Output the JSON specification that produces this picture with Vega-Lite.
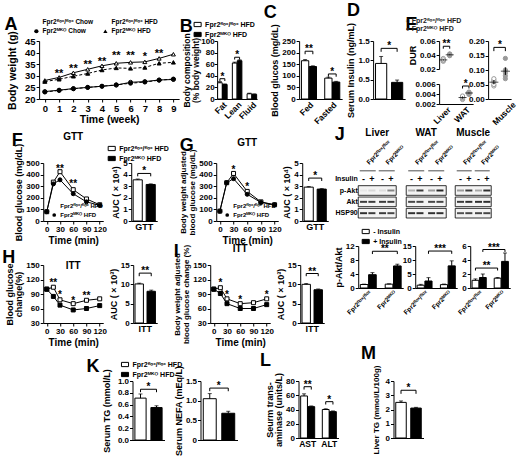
{
  "$schema": "https://vega.github.io/schema/vega-lite/v6.json",
  "padding": 2,
  "config": {
    "font": "Liberation Sans",
    "view": {"stroke": null},
    "axis": {"labelFont": "Liberation Sans", "labelFontWeight": "bold", "labelFontSize": 8, "labelColor": "black", "titleFont": "Liberation Sans", "titleFontWeight": "bold", "titleFontSize": 9, "titleColor": "black", "domainColor": "black", "tickColor": "black", "tickSize": 3, "grid": false, "labelPadding": 1, "titlePadding": 2, "labelOverlap": false, "labelFlush": false, "titleLineHeight": 9.5},
    "legend": {"labelFont": "Liberation Sans", "labelFontWeight": "bold", "labelFontSize": 7, "labelColor": "black", "symbolStrokeColor": "black", "symbolStrokeWidth": 1, "rowPadding": 1, "padding": 0, "labelOffset": 3},
    "title": {"font": "Liberation Sans", "fontWeight": "bold", "fontSize": 18, "color": "black", "anchor": "start", "offset": 2},
    "text": {"font": "Liberation Sans", "fontWeight": "bold", "fontSize": 10, "color": "black"}
  },
  "spacing": -2,
  "center": true,
  "resolve": {"scale": {"fill": "independent", "shape": "independent", "opacity": "independent"}},
  "vconcat": [
    {
      "spacing": 0,
      "resolve": {"scale": {"fill": "independent", "shape": "independent", "opacity": "independent"}},
      "hconcat": [
        {
          "width": 140, "height": 58,
          "title": {"text": "A", "offset": -16, "dx": -3},
          "data": {"values": [
            {"s": "fc", "wk": 0, "v": 23.2}, {"s": "fc", "wk": 1, "v": 23.8}, {"s": "fc", "wk": 2, "v": 24.5}, {"s": "fc", "wk": 3, "v": 25.0}, {"s": "fc", "wk": 4, "v": 25.5}, {"s": "fc", "wk": 5, "v": 26.0}, {"s": "fc", "wk": 6, "v": 27.2}, {"s": "fc", "wk": 7, "v": 27.5}, {"s": "fc", "wk": 8, "v": 28.2}, {"s": "fc", "wk": 9, "v": 28.4},
            {"s": "mc", "wk": 0, "v": 23.0}, {"s": "mc", "wk": 1, "v": 23.7}, {"s": "mc", "wk": 2, "v": 24.4}, {"s": "mc", "wk": 3, "v": 25.0}, {"s": "mc", "wk": 4, "v": 25.5}, {"s": "mc", "wk": 5, "v": 26.1}, {"s": "mc", "wk": 6, "v": 26.8}, {"s": "mc", "wk": 7, "v": 27.3}, {"s": "mc", "wk": 8, "v": 28.1}, {"s": "mc", "wk": 9, "v": 28.6},
            {"s": "fh", "wk": 0, "v": 28.0}, {"s": "fh", "wk": 1, "v": 29.3}, {"s": "fh", "wk": 2, "v": 31.3}, {"s": "fh", "wk": 3, "v": 32.8}, {"s": "fh", "wk": 4, "v": 34.3}, {"s": "fh", "wk": 5, "v": 35.4}, {"s": "fh", "wk": 6, "v": 35.8}, {"s": "fh", "wk": 7, "v": 36.0}, {"s": "fh", "wk": 8, "v": 37.5}, {"s": "fh", "wk": 9, "v": 39.3},
            {"s": "mh", "wk": 0, "v": 27.5}, {"s": "mh", "wk": 1, "v": 28.5}, {"s": "mh", "wk": 2, "v": 29.8}, {"s": "mh", "wk": 3, "v": 31.0}, {"s": "mh", "wk": 4, "v": 32.5}, {"s": "mh", "wk": 5, "v": 33.4}, {"s": "mh", "wk": 6, "v": 33.2}, {"s": "mh", "wk": 7, "v": 33.6}, {"s": "mh", "wk": 8, "v": 35.4}, {"s": "mh", "wk": 9, "v": 35.8}
          ]},
          "encoding": {
            "x": {"field": "wk", "type": "quantitative", "scale": {"domain": [-0.4, 9.4], "nice": false}, "axis": {"values": [0, 1, 2, 3, 4, 5, 6, 7, 8, 9], "title": "Time (week)", "labelFontSize": 9.5, "titleFontSize": 10.5}},
            "y": {"field": "v", "type": "quantitative", "scale": {"domain": [20, 45]}, "axis": {"values": [20, 25, 30, 35, 40, 45], "title": "Body weight (g)", "labelFontSize": 9.5, "titleFontSize": 10.5, "titlePadding": 7}}
          },
          "layer": [
            {"transform": [{"filter": "datum.s == 'fc' || datum.s == 'fh'"}], "mark": {"type": "line", "color": "black", "strokeWidth": 1}, "encoding": {"detail": {"field": "s"}}},
            {"transform": [{"filter": "datum.s == 'mc' || datum.s == 'mh'"}], "mark": {"type": "line", "color": "black", "strokeWidth": 1, "strokeDash": [3, 2]}, "encoding": {"detail": {"field": "s"}}},
            {
              "mark": {"type": "point", "filled": true, "stroke": "black", "strokeWidth": 1, "size": 16, "opacity": 1},
              "encoding": {
                "shape": {"field": "s", "type": "nominal", "scale": {"domain": ["fc", "fh", "mc", "mh"], "range": ["circle", "triangle-up", "circle", "triangle-up"]}, "legend": {"title": null, "orient": "none", "legendX": -6, "legendY": -23, "columns": 2, "direction": "horizontal", "columnPadding": 8, "symbolSize": 18, "labelFontSize": 6.5, "labelExpr": "datum.label == 'fc' ? 'Fpr2ᶠˡᵒˣ/ᶠˡᵒˣ Chow' : datum.label == 'fh' ? 'Fpr2ᶠˡᵒˣ/ᶠˡᵒˣ HFD' : datum.label == 'mc' ? 'Fpr2ᴹᴷᴼ Chow' : 'Fpr2ᴹᴷᴼ HFD'"}},
                "fill": {"field": "s", "type": "nominal", "scale": {"domain": ["fc", "fh", "mc", "mh"], "range": ["white", "white", "black", "black"]}, "legend": {"title": null, "orient": "none", "legendX": -6, "legendY": -23, "columns": 2, "direction": "horizontal", "columnPadding": 8, "symbolSize": 18, "labelFontSize": 6.5, "labelExpr": "datum.label == 'fc' ? 'Fpr2ᶠˡᵒˣ/ᶠˡᵒˣ Chow' : datum.label == 'fh' ? 'Fpr2ᶠˡᵒˣ/ᶠˡᵒˣ HFD' : datum.label == 'mc' ? 'Fpr2ᴹᴷᴼ Chow' : 'Fpr2ᴹᴷᴼ HFD'"}}
              }
            },
            {
              "data": {"values": [{"wk": 1, "v": 30.7, "t": "**"}, {"wk": 2, "v": 32.8, "t": "**"}, {"wk": 3, "v": 34.6, "t": "**"}, {"wk": 4, "v": 35.8, "t": "**"}, {"wk": 5, "v": 38.6, "t": "**"}, {"wk": 6, "v": 38.6, "t": "**"}, {"wk": 7, "v": 38.2, "t": "*"}, {"wk": 8, "v": 39.3, "t": "**"}]},
              "mark": {"type": "text", "baseline": "middle", "fontSize": 11},
              "encoding": {"text": {"field": "t"}}
            }
          ]
        },
        {
          "width": 40, "height": 58,
          "title": {"text": "B", "offset": -16, "dx": -3},
          "encoding": {
            "x": {"field": "k", "type": "nominal", "scale": {"type": "band", "domain": ["Fat|flox", "Fat|MKO", "s1", "Lean|flox", "Lean|MKO", "s2", "Fluid|flox", "Fluid|MKO"], "paddingInner": 0.06, "paddingOuter": 0.1}, "axis": {"title": null, "labelAngle": -45, "ticks": false, "labelFontSize": 8.5, "labelOffset": 2.5, "labelExpr": "datum.value == 'Fat|flox' ? 'Fat' : datum.value == 'Lean|flox' ? 'Lean' : datum.value == 'Fluid|flox' ? 'Fluid' : ''"}},
            "y": {"field": "v", "type": "quantitative", "scale": {"domain": [0, 100]}, "axis": {"values": [0, 20, 40, 60, 80, 100], "title": ["Body composition", "(% body weight)"], "titleFontSize": 8.5, "titleLineHeight": 9, "titlePadding": 0, "labelPadding": 0}}
          },
          "layer": [
            {
              "data": {"values": [{"k": "Fat|flox", "g": "flox", "v": 28, "hi": 30}, {"k": "Fat|MKO", "g": "MKO", "v": 25, "hi": 26}, {"k": "Lean|flox", "g": "flox", "v": 62, "hi": 63.5}, {"k": "Lean|MKO", "g": "MKO", "v": 66, "hi": 67.5}, {"k": "Fluid|flox", "g": "flox", "v": 9, "hi": 10}, {"k": "Fluid|MKO", "g": "MKO", "v": 8, "hi": 8.8}]},
              "layer": [
                {"mark": {"type": "bar", "stroke": "black", "strokeWidth": 1}, "encoding": {"fill": {"field": "g", "type": "nominal", "scale": {"domain": ["flox", "MKO"], "range": ["white", "black"]}, "legend": {"title": null, "orient": "none", "legendX": -24, "legendY": -21, "direction": "vertical", "symbolType": "M-1,-0.6H1V0.6H-1Z", "symbolSize": 50, "labelExpr": "datum.label == 'flox' ? 'Fpr2ᶠˡᵒˣ/ᶠˡᵒˣ HFD' : 'Fpr2ᴹᴷᴼ HFD'"}}}},
                {"mark": {"type": "rule", "color": "black", "strokeWidth": 1}, "encoding": {"y2": {"field": "hi"}}}
              ]
            },
            {"data": {"values": [{"k": "Fat|flox", "v": 30}, {"k": "Fat|MKO", "v": 26}, {"k": "Lean|flox", "v": 63.5}, {"k": "Lean|MKO", "v": 67.5}, {"k": "Fluid|flox", "v": 10}, {"k": "Fluid|MKO", "v": 8.8}]}, "mark": {"type": "tick", "color": "black", "thickness": 1, "size": 4}, "encoding": {}},
            {"data": {"values": [{"b": 1, "k": "Fat|flox", "v": 31, "o": 1}, {"b": 1, "k": "Fat|flox", "v": 35, "o": 2}, {"b": 1, "k": "Fat|MKO", "v": 35, "o": 3}, {"b": 1, "k": "Fat|MKO", "v": 31, "o": 4}, {"b": 2, "k": "Lean|flox", "v": 68, "o": 1}, {"b": 2, "k": "Lean|flox", "v": 72, "o": 2}, {"b": 2, "k": "Lean|MKO", "v": 72, "o": 3}, {"b": 2, "k": "Lean|MKO", "v": 68, "o": 4}]}, "mark": {"type": "line", "color": "black", "strokeWidth": 1}, "encoding": {"detail": {"field": "b"}, "order": {"field": "o"}}},
            {"data": {"values": [{"k": "Fat|flox", "v": 35, "s": "*"}, {"k": "Lean|flox", "v": 72, "s": "*"}]}, "mark": {"type": "text", "baseline": "bottom", "dy": 3, "dx": 2.5}, "encoding": {"text": {"field": "s"}}}
          ]
        },
        {
          "width": 43, "height": 58,
          "title": {"text": "C", "dx": -7},
          "encoding": {
            "x": {"field": "k", "type": "nominal", "scale": {"type": "band", "domain": ["Fed|flox", "Fed|MKO", "s", "Fasted|flox", "Fasted|MKO"], "paddingInner": 0.06, "paddingOuter": 0.3}, "axis": {"title": null, "labelAngle": -45, "ticks": false, "labelFontSize": 8.5, "labelOffset": 3.9, "labelExpr": "datum.value == 'Fed|flox' ? 'Fed' : datum.value == 'Fasted|flox' ? 'Fasted' : ''"}},
            "y": {"field": "v", "type": "quantitative", "scale": {"domain": [0, 250]}, "axis": {"values": [0, 50, 100, 150, 200, 250], "title": "Blood glucos (mg/dL)"}}
          },
          "layer": [
            {
              "data": {"values": [{"k": "Fed|flox", "g": "flox", "v": 165, "hi": 170}, {"k": "Fed|MKO", "g": "MKO", "v": 140, "hi": 143}, {"k": "Fasted|flox", "g": "flox", "v": 90, "hi": 94}, {"k": "Fasted|MKO", "g": "MKO", "v": 73, "hi": 76}]},
              "layer": [
                {"mark": {"type": "bar", "stroke": "black", "strokeWidth": 1}, "encoding": {"fill": {"field": "g", "type": "nominal", "scale": {"domain": ["flox", "MKO"], "range": ["white", "black"]}, "legend": null}}},
                {"mark": {"type": "rule", "color": "black", "strokeWidth": 1}, "encoding": {"y2": {"field": "hi"}}}
              ]
            },
            {"data": {"values": [{"k": "Fed|flox", "v": 170}, {"k": "Fed|MKO", "v": 143}, {"k": "Fasted|flox", "v": 94}, {"k": "Fasted|MKO", "v": 76}]}, "mark": {"type": "tick", "color": "black", "thickness": 1, "size": 4}, "encoding": {}},
            {"data": {"values": [{"b": 1, "k": "Fed|flox", "v": 193, "o": 1}, {"b": 1, "k": "Fed|flox", "v": 206, "o": 2}, {"b": 1, "k": "Fed|MKO", "v": 206, "o": 3}, {"b": 1, "k": "Fed|MKO", "v": 193, "o": 4}, {"b": 2, "k": "Fasted|flox", "v": 96, "o": 1}, {"b": 2, "k": "Fasted|flox", "v": 108, "o": 2}, {"b": 2, "k": "Fasted|MKO", "v": 108, "o": 3}, {"b": 2, "k": "Fasted|MKO", "v": 96, "o": 4}]}, "mark": {"type": "line", "color": "black", "strokeWidth": 1}, "encoding": {"detail": {"field": "b"}, "order": {"field": "o"}}},
            {"data": {"values": [{"k": "Fed|flox", "v": 206, "s": "**"}, {"k": "Fasted|flox", "v": 108, "s": "*"}]}, "mark": {"type": "text", "baseline": "bottom", "dy": 3, "dx": 3.9}, "encoding": {"text": {"field": "s"}}}
          ]
        },
        {
          "width": 32, "height": 58,
          "title": {"text": "D"},
          "encoding": {
            "x": {"field": "g", "type": "nominal", "scale": {"type": "band", "domain": ["flox", "MKO"], "paddingInner": 0.3, "paddingOuter": 0.15}, "axis": {"title": null, "labels": false, "ticks": false}},
            "y": {"field": "v", "type": "quantitative", "scale": {"domain": [0, 1.5]}, "axis": {"values": [0, 0.5, 1, 1.5], "format": ".1f", "title": "Serum Insulin (ng/mL)"}}
          },
          "layer": [
            {
              "data": {"values": [{"g": "flox", "v": 0.92, "hi": 1.1}, {"g": "MKO", "v": 0.43, "hi": 0.49}]},
              "layer": [
                {"mark": {"type": "bar", "stroke": "black", "strokeWidth": 1}, "encoding": {"fill": {"field": "g", "type": "nominal", "scale": {"domain": ["flox", "MKO"], "range": ["white", "black"]}, "legend": null}}},
                {"mark": {"type": "rule", "color": "black", "strokeWidth": 1}, "encoding": {"y2": {"field": "hi"}}}
              ]
            },
            {"data": {"values": [{"g": "flox", "v": 1.1}, {"g": "MKO", "v": 0.49}]}, "mark": {"type": "tick", "color": "black", "thickness": 1, "size": 4}, "encoding": {}},
            {"data": {"values": [{"g": "flox", "v": 1.22, "o": 1}, {"g": "flox", "v": 1.31, "o": 2}, {"g": "MKO", "v": 1.31, "o": 3}, {"g": "MKO", "v": 1.22, "o": 4}]}, "mark": {"type": "line", "color": "black", "strokeWidth": 1}, "encoding": {"order": {"field": "o"}}},
            {"data": {"values": [{"g": "flox", "v": 1.31, "s": "*"}]}, "mark": {"type": "text", "baseline": "bottom", "dy": 3, "dx": 8}, "encoding": {"text": {"field": "s"}}}
          ]
        },
        {
          "title": {"text": "E", "dx": -3, "offset": 3, "subtitle": ["\u00a0\u00a0\u00a0\u00a0\u00a0\u00a0\u00a0\u00a0\u00a0\u00a0\u00a0○ Fpr2ᶠˡᵒˣ/ᶠˡᵒˣ HFD", "\u00a0\u00a0\u00a0\u00a0\u00a0\u00a0\u00a0\u00a0\u00a0\u00a0\u00a0● Fpr2ᴹᴷᴼ HFD"], "subtitleFont": "Liberation Sans", "subtitleFontWeight": "bold", "subtitleFontSize": 7, "subtitleColor": "#222222", "subtitlePadding": -17, "subtitleLineHeight": 8},
          "spacing": -10,
          "resolve": {"scale": {"fill": "independent", "shape": "independent", "opacity": "independent"}},
          "hconcat": [
            {
              "spacing": 6,
              "resolve": {"scale": {"fill": "independent", "shape": "independent", "opacity": "independent"}},
              "vconcat": [
                {
                  "width": 34, "height": 28,
                  "encoding": {
                    "x": {"field": "k", "type": "nominal", "scale": {"type": "band", "domain": ["Liver|flox", "Liver|MKO", "s", "WAT|flox", "WAT|MKO"], "paddingInner": 0.1, "paddingOuter": 0.2}, "axis": null},
                    "y": {"field": "v", "type": "quantitative", "scale": {"domain": [0.02, 0.06]}, "axis": {"values": [0.02, 0.04, 0.06], "format": ".2f", "title": "DUR"}}
                  },
                  "layer": [
                    {
                      "data": {"values": [{"k": "Liver|flox", "g": "flox", "v": 0.031}, {"k": "Liver|flox", "g": "flox", "v": 0.0325}, {"k": "Liver|flox", "g": "flox", "v": 0.034}, {"k": "Liver|flox", "g": "flox", "v": 0.035}, {"k": "Liver|flox", "g": "flox", "v": 0.033}, {"k": "Liver|MKO", "g": "MKO", "v": 0.039}, {"k": "Liver|MKO", "g": "MKO", "v": 0.0395}, {"k": "Liver|MKO", "g": "MKO", "v": 0.04}, {"k": "Liver|MKO", "g": "MKO", "v": 0.041}, {"k": "Liver|MKO", "g": "MKO", "v": 0.0415}]},
                      "mark": {"type": "point", "filled": true, "size": 18, "stroke": "#9a9a9a", "strokeWidth": 1, "opacity": 1},
                      "encoding": {"fill": {"field": "g", "type": "nominal", "scale": {"domain": ["flox", "MKO"], "range": ["white", "#9a9a9a"]}, "legend": null}}
                    },
                    {
                      "data": {"values": [{"k": "Liver|flox", "v": 0.033, "lo": 0.0322, "hi": 0.0338}, {"k": "Liver|MKO", "v": 0.0403, "lo": 0.0398, "hi": 0.0408}]},
                      "layer": [
                        {"mark": {"type": "tick", "color": "black", "thickness": 1, "size": 8}, "encoding": {}},
                        {"mark": {"type": "rule", "color": "black", "strokeWidth": 1}, "encoding": {"y2": {"field": "lo"}}},
                        {"mark": {"type": "rule", "color": "black", "strokeWidth": 1}, "encoding": {"y2": {"field": "hi"}}}
                      ]
                    },
                    {"data": {"values": [{"k": "Liver|flox", "v": 0.049, "o": 1}, {"k": "Liver|flox", "v": 0.0525, "o": 2}, {"k": "Liver|MKO", "v": 0.0525, "o": 3}, {"k": "Liver|MKO", "v": 0.049, "o": 4}]}, "mark": {"type": "line", "color": "black", "strokeWidth": 1}, "encoding": {"order": {"field": "o"}}},
                    {"data": {"values": [{"k": "Liver|flox", "v": 0.0525, "s": "**"}]}, "mark": {"type": "text", "baseline": "bottom", "dy": 3, "dx": 3.2}, "encoding": {"text": {"field": "s"}}}
                  ]
                },
                {
                  "width": 34, "height": 20,
                  "encoding": {
                    "x": {"field": "k", "type": "nominal", "scale": {"type": "band", "domain": ["Liver|flox", "Liver|MKO", "s", "WAT|flox", "WAT|MKO"], "paddingInner": 0.1, "paddingOuter": 0.2}, "axis": {"title": null, "labelAngle": -45, "ticks": false, "labelFontSize": 8.5, "labelOffset": 3.2, "labelExpr": "datum.value == 'Liver|flox' ? 'Liver' : datum.value == 'WAT|flox' ? 'WAT' : ''"}},
                    "y": {"field": "v", "type": "quantitative", "scale": {"domain": [0.002, 0.006]}, "axis": {"values": [0.002, 0.004, 0.006], "format": ".3f", "title": null}}
                  },
                  "layer": [
                    {
                      "data": {"values": [{"k": "WAT|flox", "g": "flox", "v": 0.0029}, {"k": "WAT|flox", "g": "flox", "v": 0.0031}, {"k": "WAT|flox", "g": "flox", "v": 0.0033}, {"k": "WAT|flox", "g": "flox", "v": 0.0034}, {"k": "WAT|flox", "g": "flox", "v": 0.0036}, {"k": "WAT|MKO", "g": "MKO", "v": 0.0039}, {"k": "WAT|MKO", "g": "MKO", "v": 0.0041}, {"k": "WAT|MKO", "g": "MKO", "v": 0.0042}, {"k": "WAT|MKO", "g": "MKO", "v": 0.0043}, {"k": "WAT|MKO", "g": "MKO", "v": 0.0044}]},
                      "mark": {"type": "point", "filled": true, "size": 18, "stroke": "#9a9a9a", "strokeWidth": 1, "opacity": 1},
                      "encoding": {"fill": {"field": "g", "type": "nominal", "scale": {"domain": ["flox", "MKO"], "range": ["white", "#9a9a9a"]}, "legend": null}}
                    },
                    {
                      "data": {"values": [{"k": "WAT|flox", "v": 0.0033, "lo": 0.0031, "hi": 0.0035}, {"k": "WAT|MKO", "v": 0.0042, "lo": 0.0041, "hi": 0.0043}]},
                      "layer": [
                        {"mark": {"type": "tick", "color": "black", "thickness": 1, "size": 8}, "encoding": {}},
                        {"mark": {"type": "rule", "color": "black", "strokeWidth": 1}, "encoding": {"y2": {"field": "lo"}}},
                        {"mark": {"type": "rule", "color": "black", "strokeWidth": 1}, "encoding": {"y2": {"field": "hi"}}}
                      ]
                    },
                    {"data": {"values": [{"k": "WAT|flox", "v": 0.0051, "o": 1}, {"k": "WAT|flox", "v": 0.0056, "o": 2}, {"k": "WAT|MKO", "v": 0.0056, "o": 3}, {"k": "WAT|MKO", "v": 0.0051, "o": 4}]}, "mark": {"type": "line", "color": "black", "strokeWidth": 1}, "encoding": {"order": {"field": "o"}}},
                    {"data": {"values": [{"k": "WAT|flox", "v": 0.0056, "s": "*"}]}, "mark": {"type": "text", "baseline": "bottom", "dy": 3, "dx": 3.2}, "encoding": {"text": {"field": "s"}}}
                  ]
                }
              ]
            },
            {
              "width": 23, "height": 58,
              "encoding": {
                "x": {"field": "g", "type": "nominal", "scale": {"type": "band", "domain": ["flox", "MKO"], "paddingInner": 0.3, "paddingOuter": 0.15}, "axis": {"title": null, "labelAngle": -45, "ticks": false, "labelFontSize": 8.5, "labelOffset": 6, "labelExpr": "datum.value == 'MKO' ? 'Muscle' : ''"}},
                "y": {"field": "v", "type": "quantitative", "scale": {"domain": [0, 0.2]}, "axis": {"values": [0, 0.05, 0.1, 0.15, 0.2], "format": ".2f", "title": null}}
              },
              "layer": [
                {
                  "data": {"values": [{"g": "flox", "v": 0.045}, {"g": "flox", "v": 0.05}, {"g": "flox", "v": 0.06}, {"g": "flox", "v": 0.065}, {"g": "flox", "v": 0.07}, {"g": "MKO", "v": 0.07}, {"g": "MKO", "v": 0.08}, {"g": "MKO", "v": 0.09}, {"g": "MKO", "v": 0.1}, {"g": "MKO", "v": 0.14}]},
                  "mark": {"type": "point", "filled": true, "size": 18, "stroke": "#9a9a9a", "strokeWidth": 1, "opacity": 1},
                  "encoding": {"fill": {"field": "g", "type": "nominal", "scale": {"domain": ["flox", "MKO"], "range": ["white", "#9a9a9a"]}, "legend": null}}
                },
                {
                  "data": {"values": [{"g": "flox", "v": 0.058, "lo": 0.051, "hi": 0.065}, {"g": "MKO", "v": 0.096, "lo": 0.083, "hi": 0.109}]},
                  "layer": [
                    {"mark": {"type": "tick", "color": "black", "thickness": 1, "size": 9}, "encoding": {}},
                    {"mark": {"type": "rule", "color": "black", "strokeWidth": 1}, "encoding": {"y2": {"field": "lo"}}},
                    {"mark": {"type": "rule", "color": "black", "strokeWidth": 1}, "encoding": {"y2": {"field": "hi"}}}
                  ]
                },
                {"data": {"values": [{"g": "flox", "v": 0.165, "o": 1}, {"g": "flox", "v": 0.178, "o": 2}, {"g": "MKO", "v": 0.178, "o": 3}, {"g": "MKO", "v": 0.165, "o": 4}]}, "mark": {"type": "line", "color": "black", "strokeWidth": 1}, "encoding": {"order": {"field": "o"}}},
                {"data": {"values": [{"g": "flox", "v": 0.178, "s": "*"}]}, "mark": {"type": "text", "baseline": "bottom", "dy": 3, "dx": 6}, "encoding": {"text": {"field": "s"}}}
              ]
            }
          ]
        }
      ]
    },
    {
      "spacing": -8,
      "resolve": {"scale": {"fill": "independent", "shape": "independent", "opacity": "independent"}},
      "hconcat": [
        {
          "spacing": -2,
          "resolve": {"scale": {"fill": "independent", "shape": "independent", "opacity": "independent"}},
          "vconcat": [
            {
              "spacing": 10,
              "resolve": {"scale": {"fill": "independent", "shape": "independent", "opacity": "independent"}},
              "hconcat": [
                {
                  "title": {"text": "F", "offset": -18, "dx": -3},
                  "spacing": 0,
                  "resolve": {"scale": {"fill": "independent", "shape": "independent", "opacity": "independent"}},
                  "hconcat": [
                    {
                      "width": 60, "height": 58,
                      "title": {"text": "GTT", "anchor": "middle", "fontSize": 10, "offset": 1},
                      "data": {"values": [{"g": "flox", "t": 0, "v": 80}, {"g": "flox", "t": 15, "v": 335}, {"g": "flox", "t": 30, "v": 425}, {"g": "flox", "t": 60, "v": 270}, {"g": "flox", "t": 90, "v": 190}, {"g": "flox", "t": 120, "v": 140}, {"g": "MKO", "t": 0, "v": 80}, {"g": "MKO", "t": 15, "v": 320}, {"g": "MKO", "t": 30, "v": 355}, {"g": "MKO", "t": 60, "v": 235}, {"g": "MKO", "t": 90, "v": 165}, {"g": "MKO", "t": 120, "v": 135}]},
                      "encoding": {
                        "x": {"field": "t", "type": "quantitative", "scale": {"domain": [-8, 128], "nice": false}, "axis": {"values": [0, 30, 60, 90, 120], "title": "Time (min)", "titleFontSize": 10}},
                        "y": {"field": "v", "type": "quantitative", "scale": {"domain": [0, 500]}, "axis": {"values": [0, 100, 200, 300, 400, 500], "title": "Blood glucose (mg/dL)"}}
                      },
                      "layer": [
                        {"mark": {"type": "line", "color": "black", "strokeWidth": 1}, "encoding": {"detail": {"field": "g"}}},
                        {
                          "mark": {"type": "point", "filled": true, "stroke": "black", "strokeWidth": 1, "size": 16, "opacity": 1},
                          "encoding": {
                            "shape": {"field": "g", "type": "nominal", "scale": {"domain": ["flox", "MKO"], "range": ["square", "circle"]}, "legend": {"title": null, "orient": "none", "legendX": 8, "legendY": 40, "direction": "vertical", "symbolSize": 14, "labelFontSize": 6, "labelExpr": "datum.label == 'flox' ? 'Fpr2ᶠˡᵒˣ/ᶠˡᵒˣ HFD' : 'Fpr2ᴹᴷᴼ HFD'"}},
                            "fill": {"field": "g", "type": "nominal", "scale": {"domain": ["flox", "MKO"], "range": ["white", "black"]}, "legend": {"title": null, "orient": "none", "legendX": 8, "legendY": 40, "direction": "vertical", "symbolSize": 14, "labelFontSize": 6, "labelExpr": "datum.label == 'flox' ? 'Fpr2ᶠˡᵒˣ/ᶠˡᵒˣ HFD' : 'Fpr2ᴹᴷᴼ HFD'"}}
                          }
                        },
                        {"data": {"values": [{"t": 30, "v": 445, "s": "**"}, {"t": 60, "v": 315, "s": "**"}]}, "mark": {"type": "text", "baseline": "middle"}, "encoding": {"text": {"field": "s"}}}
                      ]
                    },
                    {
                      "width": 26, "height": 58,
                      "encoding": {
                        "x": {"field": "g", "type": "nominal", "scale": {"type": "band", "domain": ["flox", "MKO"], "paddingInner": 0.3, "paddingOuter": 0.15}, "axis": {"title": null, "labelAngle": 0, "ticks": false, "labelFontSize": 9, "labelOffset": 6.5, "labelExpr": "datum.value == 'flox' ? 'GTT' : ''"}},
                        "y": {"field": "v", "type": "quantitative", "scale": {"domain": [0, 5]}, "axis": {"values": [0, 1, 2, 3, 4, 5], "title": "AUC ( × 10⁴)"}}
                      },
                      "layer": [
                        {
                          "data": {"values": [{"g": "flox", "v": 3.55, "hi": 3.62}, {"g": "MKO", "v": 3.15, "hi": 3.2}]},
                          "layer": [
                            {"mark": {"type": "bar", "stroke": "black", "strokeWidth": 1}, "encoding": {"fill": {"field": "g", "type": "nominal", "scale": {"domain": ["flox", "MKO"], "range": ["white", "black"]}, "legend": {"title": null, "orient": "none", "legendX": -24, "legendY": -19, "direction": "vertical", "symbolType": "M-1,-0.6H1V0.6H-1Z", "symbolSize": 50, "labelExpr": "datum.label == 'flox' ? 'Fpr2ᶠˡᵒˣ/ᶠˡᵒˣ HFD' : 'Fpr2ᴹᴷᴼ HFD'"}}}},
                            {"mark": {"type": "rule", "color": "black", "strokeWidth": 1}, "encoding": {"y2": {"field": "hi"}}}
                          ]
                        },
                        {"data": {"values": [{"g": "flox", "v": 3.62}, {"g": "MKO", "v": 3.2}]}, "mark": {"type": "tick", "color": "black", "thickness": 1, "size": 4}, "encoding": {}},
                        {"data": {"values": [{"g": "flox", "v": 3.85, "o": 1}, {"g": "flox", "v": 4.1, "o": 2}, {"g": "MKO", "v": 4.1, "o": 3}, {"g": "MKO", "v": 3.85, "o": 4}]}, "mark": {"type": "line", "color": "black", "strokeWidth": 1}, "encoding": {"order": {"field": "o"}}},
                        {"data": {"values": [{"g": "flox", "v": 4.1, "s": "*"}]}, "mark": {"type": "text", "baseline": "bottom", "dy": 3, "dx": 6.5}, "encoding": {"text": {"field": "s"}}}
                      ]
                    }
                  ]
                },
                {
                  "title": {"text": "G", "offset": -17},
                  "spacing": 0,
                  "resolve": {"scale": {"fill": "independent", "shape": "independent", "opacity": "independent"}},
                  "hconcat": [
                    {
                      "width": 62, "height": 58,
                      "title": {"text": "GTT", "anchor": "middle", "fontSize": 10, "offset": 1},
                      "data": {"values": [{"g": "flox", "t": 0, "v": 85}, {"g": "flox", "t": 15, "v": 330}, {"g": "flox", "t": 30, "v": 410}, {"g": "flox", "t": 60, "v": 255}, {"g": "flox", "t": 90, "v": 165}, {"g": "flox", "t": 120, "v": 140}, {"g": "MKO", "t": 0, "v": 85}, {"g": "MKO", "t": 15, "v": 330}, {"g": "MKO", "t": 30, "v": 365}, {"g": "MKO", "t": 60, "v": 230}, {"g": "MKO", "t": 90, "v": 160}, {"g": "MKO", "t": 120, "v": 140}]},
                      "encoding": {
                        "x": {"field": "t", "type": "quantitative", "scale": {"domain": [-8, 128], "nice": false}, "axis": {"values": [0, 30, 60, 90, 120], "title": "Time (min)", "titleFontSize": 10}},
                        "y": {"field": "v", "type": "quantitative", "scale": {"domain": [0, 500]}, "axis": {"values": [0, 100, 200, 300, 400, 500], "title": ["Body weight adjusted", "blood glucose (mg/dL)"], "titleFontSize": 8, "titleLineHeight": 9}}
                      },
                      "layer": [
                        {"mark": {"type": "line", "color": "black", "strokeWidth": 1}, "encoding": {"detail": {"field": "g"}}},
                        {
                          "mark": {"type": "point", "filled": true, "stroke": "black", "strokeWidth": 1, "size": 16, "opacity": 1},
                          "encoding": {
                            "shape": {"field": "g", "type": "nominal", "scale": {"domain": ["flox", "MKO"], "range": ["square", "circle"]}, "legend": {"title": null, "orient": "none", "legendX": 8, "legendY": 40, "direction": "vertical", "symbolSize": 14, "labelFontSize": 6, "labelExpr": "datum.label == 'flox' ? 'Fpr2ᶠˡᵒˣ/ᶠˡᵒˣ HFD' : 'Fpr2ᴹᴷᴼ HFD'"}},
                            "fill": {"field": "g", "type": "nominal", "scale": {"domain": ["flox", "MKO"], "range": ["white", "black"]}, "legend": {"title": null, "orient": "none", "legendX": 8, "legendY": 40, "direction": "vertical", "symbolSize": 14, "labelFontSize": 6, "labelExpr": "datum.label == 'flox' ? 'Fpr2ᶠˡᵒˣ/ᶠˡᵒˣ HFD' : 'Fpr2ᴹᴷᴼ HFD'"}}
                          }
                        },
                        {"data": {"values": [{"t": 30, "v": 440, "s": "*"}, {"t": 60, "v": 290, "s": "*"}]}, "mark": {"type": "text", "baseline": "middle"}, "encoding": {"text": {"field": "s"}}}
                      ]
                    },
                    {
                      "width": 26, "height": 58,
                      "encoding": {
                        "x": {"field": "g", "type": "nominal", "scale": {"type": "band", "domain": ["flox", "MKO"], "paddingInner": 0.3, "paddingOuter": 0.15}, "axis": {"title": null, "labelAngle": 0, "ticks": false, "labelFontSize": 9, "labelOffset": 6.5, "labelExpr": "datum.value == 'flox' ? 'GTT' : ''"}},
                        "y": {"field": "v", "type": "quantitative", "scale": {"domain": [0, 5]}, "axis": {"values": [0, 1, 2, 3, 4, 5], "title": "AUC ( × 10⁴)"}}
                      },
                      "layer": [
                        {
                          "data": {"values": [{"g": "flox", "v": 2.92, "hi": 2.97}, {"g": "MKO", "v": 2.75, "hi": 2.79}]},
                          "layer": [
                            {"mark": {"type": "bar", "stroke": "black", "strokeWidth": 1}, "encoding": {"fill": {"field": "g", "type": "nominal", "scale": {"domain": ["flox", "MKO"], "range": ["white", "black"]}, "legend": null}}},
                            {"mark": {"type": "rule", "color": "black", "strokeWidth": 1}, "encoding": {"y2": {"field": "hi"}}}
                          ]
                        },
                        {"data": {"values": [{"g": "flox", "v": 2.97}, {"g": "MKO", "v": 2.79}]}, "mark": {"type": "tick", "color": "black", "thickness": 1, "size": 4}, "encoding": {}},
                        {"data": {"values": [{"g": "flox", "v": 3.45, "o": 1}, {"g": "flox", "v": 3.7, "o": 2}, {"g": "MKO", "v": 3.7, "o": 3}, {"g": "MKO", "v": 3.45, "o": 4}]}, "mark": {"type": "line", "color": "black", "strokeWidth": 1}, "encoding": {"order": {"field": "o"}}},
                        {"data": {"values": [{"g": "flox", "v": 3.7, "s": "*"}]}, "mark": {"type": "text", "baseline": "bottom", "dy": 3, "dx": 6.5}, "encoding": {"text": {"field": "s"}}}
                      ]
                    }
                  ]
                }
              ]
            },
            {
              "spacing": 16,
              "resolve": {"scale": {"fill": "independent", "shape": "independent", "opacity": "independent"}},
              "hconcat": [
                {
                  "title": {"text": "H", "offset": -6, "dx": -3},
                  "spacing": 2,
                  "resolve": {"scale": {"fill": "independent", "shape": "independent", "opacity": "independent"}},
                  "hconcat": [
                    {
                      "width": 60, "height": 58,
                      "title": {"text": "ITT", "anchor": "middle", "fontSize": 10, "offset": -10},
                      "data": {"values": [{"g": "flox", "t": 0, "v": 100}, {"g": "flox", "t": 15, "v": 104}, {"g": "flox", "t": 30, "v": 78}, {"g": "flox", "t": 60, "v": 70}, {"g": "flox", "t": 90, "v": 77}, {"g": "flox", "t": 120, "v": 80}, {"g": "MKO", "t": 0, "v": 100}, {"g": "MKO", "t": 15, "v": 85}, {"g": "MKO", "t": 30, "v": 67}, {"g": "MKO", "t": 60, "v": 57}, {"g": "MKO", "t": 90, "v": 60}, {"g": "MKO", "t": 120, "v": 66}]},
                      "encoding": {
                        "x": {"field": "t", "type": "quantitative", "scale": {"domain": [-8, 128], "nice": false}, "axis": {"values": [0, 30, 60, 90, 120], "title": "Time (min)", "titleFontSize": 10}},
                        "y": {"field": "v", "type": "quantitative", "scale": {"domain": [30, 150]}, "axis": {"values": [30, 60, 90, 120, 150], "title": ["Blood glucose", "change(%)"]}}
                      },
                      "layer": [
                        {"mark": {"type": "line", "color": "black", "strokeWidth": 1}, "encoding": {"detail": {"field": "g"}}},
                        {"mark": {"type": "point", "filled": true, "stroke": "black", "strokeWidth": 1, "size": 16, "opacity": 1, "shape": "square"}, "encoding": {"fill": {"field": "g", "type": "nominal", "scale": {"domain": ["flox", "MKO"], "range": ["white", "black"]}, "legend": null}}},
                        {"data": {"values": [{"t": 15, "v": 113, "s": "**"}, {"t": 30, "v": 88, "s": "*"}, {"t": 60, "v": 76, "s": "*"}, {"t": 90, "v": 85, "s": "**"}]}, "mark": {"type": "text", "baseline": "middle"}, "encoding": {"text": {"field": "s"}}}
                      ]
                    },
                    {
                      "width": 24, "height": 58,
                      "encoding": {
                        "x": {"field": "g", "type": "nominal", "scale": {"type": "band", "domain": ["flox", "MKO"], "paddingInner": 0.3, "paddingOuter": 0.15}, "axis": {"title": null, "labelAngle": 0, "ticks": false, "labelFontSize": 9, "labelOffset": 6, "labelExpr": "datum.value == 'flox' ? 'ITT' : ''"}},
                        "y": {"field": "v", "type": "quantitative", "scale": {"domain": [0, 15]}, "axis": {"values": [0, 5, 10, 15], "title": "AUC ( × 10³)"}}
                      },
                      "layer": [
                        {
                          "data": {"values": [{"g": "flox", "v": 10.1, "hi": 10.3}, {"g": "MKO", "v": 8.2, "hi": 8.5}]},
                          "layer": [
                            {"mark": {"type": "bar", "stroke": "black", "strokeWidth": 1}, "encoding": {"fill": {"field": "g", "type": "nominal", "scale": {"domain": ["flox", "MKO"], "range": ["white", "black"]}, "legend": null}}},
                            {"mark": {"type": "rule", "color": "black", "strokeWidth": 1}, "encoding": {"y2": {"field": "hi"}}}
                          ]
                        },
                        {"data": {"values": [{"g": "flox", "v": 10.3}, {"g": "MKO", "v": 8.5}]}, "mark": {"type": "tick", "color": "black", "thickness": 1, "size": 4}, "encoding": {}},
                        {"data": {"values": [{"g": "flox", "v": 12.1, "o": 1}, {"g": "flox", "v": 12.9, "o": 2}, {"g": "MKO", "v": 12.9, "o": 3}, {"g": "MKO", "v": 12.1, "o": 4}]}, "mark": {"type": "line", "color": "black", "strokeWidth": 1}, "encoding": {"order": {"field": "o"}}},
                        {"data": {"values": [{"g": "flox", "v": 12.9, "s": "**"}]}, "mark": {"type": "text", "baseline": "bottom", "dy": 3, "dx": 6}, "encoding": {"text": {"field": "s"}}}
                      ]
                    }
                  ]
                },
                {
                  "title": {"text": "I", "offset": -17},
                  "spacing": 2,
                  "resolve": {"scale": {"fill": "independent", "shape": "independent", "opacity": "independent"}},
                  "hconcat": [
                    {
                      "width": 60, "height": 58,
                      "title": {"text": "ITT", "anchor": "middle", "fontSize": 10, "offset": -10},
                      "data": {"values": [{"g": "flox", "t": 0, "v": 100}, {"g": "flox", "t": 15, "v": 103}, {"g": "flox", "t": 30, "v": 80}, {"g": "flox", "t": 60, "v": 70}, {"g": "flox", "t": 90, "v": 72}, {"g": "flox", "t": 120, "v": 80}, {"g": "MKO", "t": 0, "v": 100}, {"g": "MKO", "t": 15, "v": 91}, {"g": "MKO", "t": 30, "v": 70}, {"g": "MKO", "t": 60, "v": 60}, {"g": "MKO", "t": 90, "v": 60}, {"g": "MKO", "t": 120, "v": 68}]},
                      "encoding": {
                        "x": {"field": "t", "type": "quantitative", "scale": {"domain": [-8, 128], "nice": false}, "axis": {"values": [0, 30, 60, 90, 120], "title": "Time (min)", "titleFontSize": 10}},
                        "y": {"field": "v", "type": "quantitative", "scale": {"domain": [30, 150]}, "axis": {"values": [30, 60, 90, 120, 150], "title": ["Body weight adjusted", "blood glucose change (%)"], "titleFontSize": 8, "titleLineHeight": 9}}
                      },
                      "layer": [
                        {"mark": {"type": "line", "color": "black", "strokeWidth": 1}, "encoding": {"detail": {"field": "g"}}},
                        {"mark": {"type": "point", "filled": true, "stroke": "black", "strokeWidth": 1, "size": 16, "opacity": 1, "shape": "square"}, "encoding": {"fill": {"field": "g", "type": "nominal", "scale": {"domain": ["flox", "MKO"], "range": ["white", "black"]}, "legend": null}}},
                        {"data": {"values": [{"t": 15, "v": 113, "s": "*"}, {"t": 30, "v": 88, "s": "*"}, {"t": 60, "v": 77, "s": "*"}, {"t": 120, "v": 88, "s": "*"}]}, "mark": {"type": "text", "baseline": "middle"}, "encoding": {"text": {"field": "s"}}}
                      ]
                    },
                    {
                      "width": 24, "height": 58,
                      "encoding": {
                        "x": {"field": "g", "type": "nominal", "scale": {"type": "band", "domain": ["flox", "MKO"], "paddingInner": 0.3, "paddingOuter": 0.15}, "axis": {"title": null, "labelAngle": 0, "ticks": false, "labelFontSize": 9, "labelOffset": 6, "labelExpr": "datum.value == 'flox' ? 'ITT' : ''"}},
                        "y": {"field": "v", "type": "quantitative", "scale": {"domain": [0, 15]}, "axis": {"values": [0, 5, 10, 15], "title": "AUC ( × 10³)"}}
                      },
                      "layer": [
                        {
                          "data": {"values": [{"g": "flox", "v": 10.0, "hi": 10.2}, {"g": "MKO", "v": 8.6, "hi": 8.8}]},
                          "layer": [
                            {"mark": {"type": "bar", "stroke": "black", "strokeWidth": 1}, "encoding": {"fill": {"field": "g", "type": "nominal", "scale": {"domain": ["flox", "MKO"], "range": ["white", "black"]}, "legend": null}}},
                            {"mark": {"type": "rule", "color": "black", "strokeWidth": 1}, "encoding": {"y2": {"field": "hi"}}}
                          ]
                        },
                        {"data": {"values": [{"g": "flox", "v": 10.2}, {"g": "MKO", "v": 8.8}]}, "mark": {"type": "tick", "color": "black", "thickness": 1, "size": 4}, "encoding": {}},
                        {"data": {"values": [{"g": "flox", "v": 12.1, "o": 1}, {"g": "flox", "v": 12.8, "o": 2}, {"g": "MKO", "v": 12.8, "o": 3}, {"g": "MKO", "v": 12.1, "o": 4}]}, "mark": {"type": "line", "color": "black", "strokeWidth": 1}, "encoding": {"order": {"field": "o"}}},
                        {"data": {"values": [{"g": "flox", "v": 12.8, "s": "**"}]}, "mark": {"type": "text", "baseline": "bottom", "dy": 3, "dx": 6}, "encoding": {"text": {"field": "s"}}}
                      ]
                    }
                  ]
                }
              ]
            }
          ]
        },
        {
          "title": {"text": "J", "offset": -16, "dx": 14},
          "spacing": 8,
          "resolve": {"scale": {"fill": "independent", "shape": "independent", "opacity": "independent"}},
          "vconcat": [
            {
              "spacing": -2,
              "resolve": {"scale": {"fill": "independent", "shape": "independent", "opacity": "independent"}},
              "hconcat": [
                {
                  "width": 38, "height": 55,
                  "title": {"text": "Liver", "anchor": "middle", "fontSize": 10, "offset": 1},
                  "encoding": {"y": {"field": "p", "type": "nominal", "scale": {"type": "band", "domain": ["L", "Insulin", "p-Akt", "Akt", "HSP90"], "paddingInner": 0.15, "paddingOuter": 0}, "axis": {"title": "\u00a0", "titlePadding": 5, "domain": false, "ticks": false, "labelFontSize": 7, "labelPadding": 1, "labelExpr": "datum.value == 'L' ? '' : datum.value"}}},
                  "layer": [
                    {"data": {"values": [{"p": "p-Akt"}, {"p": "Akt"}, {"p": "HSP90"}]}, "mark": {"type": "rect", "fill": "#f3f3f3", "stroke": "black", "strokeWidth": 0.8}},
                    {
                      "data": {"values": [
                        {"geno": "flox", "ins": "-", "p": "p-Akt", "a": 0.05}, {"geno": "flox", "ins": "+", "p": "p-Akt", "a": 0.12}, {"geno": "MKO", "ins": "-", "p": "p-Akt", "a": 0.1}, {"geno": "MKO", "ins": "+", "p": "p-Akt", "a": 0.5},
                        {"geno": "flox", "ins": "-", "p": "Akt", "a": 0.85}, {"geno": "flox", "ins": "+", "p": "Akt", "a": 0.85}, {"geno": "MKO", "ins": "-", "p": "Akt", "a": 0.85}, {"geno": "MKO", "ins": "+", "p": "Akt", "a": 0.85},
                        {"geno": "flox", "ins": "-", "p": "HSP90", "a": 0.9}, {"geno": "flox", "ins": "+", "p": "HSP90", "a": 0.85}, {"geno": "MKO", "ins": "-", "p": "HSP90", "a": 0.85}, {"geno": "MKO", "ins": "+", "p": "HSP90", "a": 0.8}
                      ]},
                      "mark": {"type": "point", "shape": "M-1,-0.28H1V0.28H-1Z", "filled": true, "color": "#1a1a1a", "size": 49},
                      "encoding": {
                        "x": {"field": "geno", "type": "nominal", "scale": {"type": "band", "domain": ["flox", "MKO"], "paddingInner": 0.12, "paddingOuter": 0.06}, "axis": {"orient": "top", "title": null, "domain": false, "ticks": false, "labelAngle": -45, "labelAlign": "left", "labelBaseline": "middle", "labelFontSize": 6.5, "labelPadding": 0, "labelExpr": "datum.value == 'flox' ? 'Fpr2ᶠˡᵒˣ/ᶠˡᵒˣ' : 'Fpr2ᴹᴷᴼ'"}},
                        "xOffset": {"field": "ins", "type": "nominal", "scale": {"type": "band", "domain": ["-", "+"]}},
                        "opacity": {"field": "a", "type": "quantitative", "scale": {"domain": [0, 1], "range": [0, 1]}, "legend": null}
                      }
                    },
                    {
                      "data": {"values": [{"geno": "flox", "ins": "-", "p": "Insulin"}, {"geno": "flox", "ins": "+", "p": "Insulin"}, {"geno": "MKO", "ins": "-", "p": "Insulin"}, {"geno": "MKO", "ins": "+", "p": "Insulin"}]},
                      "mark": {"type": "text", "fontSize": 9},
                      "encoding": {"x": {"field": "geno", "type": "nominal", "axis": {"orient": "top", "title": null, "domain": false, "ticks": false, "labelAngle": -45, "labelAlign": "left", "labelBaseline": "middle", "labelFontSize": 6.5, "labelPadding": 0, "labelExpr": "datum.value == 'flox' ? 'Fpr2ᶠˡᵒˣ/ᶠˡᵒˣ' : 'Fpr2ᴹᴷᴼ'"}}, "xOffset": {"field": "ins", "type": "nominal"}, "text": {"field": "ins"}}
                    },
                    {
                      "data": {"values": [{"geno": "flox", "p": "L"}, {"geno": "MKO", "p": "L"}]},
                      "mark": {"type": "tick", "orient": "horizontal", "thickness": 1, "size": 16, "color": "black", "yOffset": 3},
                      "encoding": {"x": {"field": "geno", "type": "nominal", "axis": {"orient": "top", "title": null, "domain": false, "ticks": false, "labelAngle": -45, "labelAlign": "left", "labelBaseline": "middle", "labelFontSize": 6.5, "labelPadding": 0, "labelExpr": "datum.value == 'flox' ? 'Fpr2ᶠˡᵒˣ/ᶠˡᵒˣ' : 'Fpr2ᴹᴷᴼ'"}}}
                    }
                  ]
                },
                {
                  "width": 40, "height": 55,
                  "title": {"text": "WAT", "anchor": "middle", "fontSize": 10, "offset": 1},
                  "encoding": {"y": {"field": "p", "type": "nominal", "scale": {"type": "band", "domain": ["L", "Insulin", "p-Akt", "Akt", "HSP90"], "paddingInner": 0.15, "paddingOuter": 0}, "axis": null}},
                  "layer": [
                    {"data": {"values": [{"p": "p-Akt"}, {"p": "Akt"}, {"p": "HSP90"}]}, "mark": {"type": "rect", "fill": "#f3f3f3", "stroke": "black", "strokeWidth": 0.8}},
                    {
                      "data": {"values": [
                        {"geno": "flox", "ins": "-", "p": "p-Akt", "a": 0.3}, {"geno": "flox", "ins": "+", "p": "p-Akt", "a": 0.85}, {"geno": "MKO", "ins": "-", "p": "p-Akt", "a": 0.4}, {"geno": "MKO", "ins": "+", "p": "p-Akt", "a": 0.95},
                        {"geno": "flox", "ins": "-", "p": "Akt", "a": 0.8}, {"geno": "flox", "ins": "+", "p": "Akt", "a": 0.8}, {"geno": "MKO", "ins": "-", "p": "Akt", "a": 0.8}, {"geno": "MKO", "ins": "+", "p": "Akt", "a": 0.8},
                        {"geno": "flox", "ins": "-", "p": "HSP90", "a": 0.9}, {"geno": "flox", "ins": "+", "p": "HSP90", "a": 0.9}, {"geno": "MKO", "ins": "-", "p": "HSP90", "a": 0.9}, {"geno": "MKO", "ins": "+", "p": "HSP90", "a": 0.9}
                      ]},
                      "mark": {"type": "point", "shape": "M-1,-0.28H1V0.28H-1Z", "filled": true, "color": "#1a1a1a", "size": 49},
                      "encoding": {
                        "x": {"field": "geno", "type": "nominal", "scale": {"type": "band", "domain": ["flox", "MKO"], "paddingInner": 0.12, "paddingOuter": 0.06}, "axis": {"orient": "top", "title": null, "domain": false, "ticks": false, "labelAngle": -45, "labelAlign": "left", "labelBaseline": "middle", "labelFontSize": 6.5, "labelPadding": 0, "labelExpr": "datum.value == 'flox' ? 'Fpr2ᶠˡᵒˣ/ᶠˡᵒˣ' : 'Fpr2ᴹᴷᴼ'"}},
                        "xOffset": {"field": "ins", "type": "nominal", "scale": {"type": "band", "domain": ["-", "+"]}},
                        "opacity": {"field": "a", "type": "quantitative", "scale": {"domain": [0, 1], "range": [0, 1]}, "legend": null}
                      }
                    },
                    {
                      "data": {"values": [{"geno": "flox", "ins": "-", "p": "Insulin"}, {"geno": "flox", "ins": "+", "p": "Insulin"}, {"geno": "MKO", "ins": "-", "p": "Insulin"}, {"geno": "MKO", "ins": "+", "p": "Insulin"}]},
                      "mark": {"type": "text", "fontSize": 9},
                      "encoding": {"x": {"field": "geno", "type": "nominal", "axis": {"orient": "top", "title": null, "domain": false, "ticks": false, "labelAngle": -45, "labelAlign": "left", "labelBaseline": "middle", "labelFontSize": 6.5, "labelPadding": 0, "labelExpr": "datum.value == 'flox' ? 'Fpr2ᶠˡᵒˣ/ᶠˡᵒˣ' : 'Fpr2ᴹᴷᴼ'"}}, "xOffset": {"field": "ins", "type": "nominal"}, "text": {"field": "ins"}}
                    },
                    {
                      "data": {"values": [{"geno": "flox", "p": "L"}, {"geno": "MKO", "p": "L"}]},
                      "mark": {"type": "tick", "orient": "horizontal", "thickness": 1, "size": 16, "color": "black", "yOffset": 3},
                      "encoding": {"x": {"field": "geno", "type": "nominal", "axis": {"orient": "top", "title": null, "domain": false, "ticks": false, "labelAngle": -45, "labelAlign": "left", "labelBaseline": "middle", "labelFontSize": 6.5, "labelPadding": 0, "labelExpr": "datum.value == 'flox' ? 'Fpr2ᶠˡᵒˣ/ᶠˡᵒˣ' : 'Fpr2ᴹᴷᴼ'"}}}
                    }
                  ]
                },
                {
                  "width": 36, "height": 55,
                  "title": {"text": "Muscle", "anchor": "middle", "fontSize": 10, "offset": 1},
                  "encoding": {"y": {"field": "p", "type": "nominal", "scale": {"type": "band", "domain": ["L", "Insulin", "p-Akt", "Akt", "HSP90"], "paddingInner": 0.15, "paddingOuter": 0}, "axis": null}},
                  "layer": [
                    {"data": {"values": [{"p": "p-Akt"}, {"p": "Akt"}, {"p": "HSP90"}]}, "mark": {"type": "rect", "fill": "#f3f3f3", "stroke": "black", "strokeWidth": 0.8}},
                    {
                      "data": {"values": [
                        {"geno": "flox", "ins": "-", "p": "p-Akt", "a": 0.4}, {"geno": "flox", "ins": "+", "p": "p-Akt", "a": 0.85}, {"geno": "MKO", "ins": "-", "p": "p-Akt", "a": 0.35}, {"geno": "MKO", "ins": "+", "p": "p-Akt", "a": 0.9},
                        {"geno": "flox", "ins": "-", "p": "Akt", "a": 0.85}, {"geno": "flox", "ins": "+", "p": "Akt", "a": 0.9}, {"geno": "MKO", "ins": "-", "p": "Akt", "a": 0.9}, {"geno": "MKO", "ins": "+", "p": "Akt", "a": 0.9},
                        {"geno": "flox", "ins": "-", "p": "HSP90", "a": 0.75}, {"geno": "flox", "ins": "+", "p": "HSP90", "a": 0.8}, {"geno": "MKO", "ins": "-", "p": "HSP90", "a": 0.8}, {"geno": "MKO", "ins": "+", "p": "HSP90", "a": 0.8}
                      ]},
                      "mark": {"type": "point", "shape": "M-1,-0.28H1V0.28H-1Z", "filled": true, "color": "#1a1a1a", "size": 49},
                      "encoding": {
                        "x": {"field": "geno", "type": "nominal", "scale": {"type": "band", "domain": ["flox", "MKO"], "paddingInner": 0.12, "paddingOuter": 0.06}, "axis": {"orient": "top", "title": null, "domain": false, "ticks": false, "labelAngle": -45, "labelAlign": "left", "labelBaseline": "middle", "labelFontSize": 6.5, "labelPadding": 0, "labelExpr": "datum.value == 'flox' ? 'Fpr2ᶠˡᵒˣ/ᶠˡᵒˣ' : 'Fpr2ᴹᴷᴼ'"}},
                        "xOffset": {"field": "ins", "type": "nominal", "scale": {"type": "band", "domain": ["-", "+"]}},
                        "opacity": {"field": "a", "type": "quantitative", "scale": {"domain": [0, 1], "range": [0, 1]}, "legend": null}
                      }
                    },
                    {
                      "data": {"values": [{"geno": "flox", "ins": "-", "p": "Insulin"}, {"geno": "flox", "ins": "+", "p": "Insulin"}, {"geno": "MKO", "ins": "-", "p": "Insulin"}, {"geno": "MKO", "ins": "+", "p": "Insulin"}]},
                      "mark": {"type": "text", "fontSize": 9},
                      "encoding": {"x": {"field": "geno", "type": "nominal", "axis": {"orient": "top", "title": null, "domain": false, "ticks": false, "labelAngle": -45, "labelAlign": "left", "labelBaseline": "middle", "labelFontSize": 6.5, "labelPadding": 0, "labelExpr": "datum.value == 'flox' ? 'Fpr2ᶠˡᵒˣ/ᶠˡᵒˣ' : 'Fpr2ᴹᴷᴼ'"}}, "xOffset": {"field": "ins", "type": "nominal"}, "text": {"field": "ins"}}
                    },
                    {
                      "data": {"values": [{"geno": "flox", "p": "L"}, {"geno": "MKO", "p": "L"}]},
                      "mark": {"type": "tick", "orient": "horizontal", "thickness": 1, "size": 15, "color": "black", "yOffset": 3},
                      "encoding": {"x": {"field": "geno", "type": "nominal", "axis": {"orient": "top", "title": null, "domain": false, "ticks": false, "labelAngle": -45, "labelAlign": "left", "labelBaseline": "middle", "labelFontSize": 6.5, "labelPadding": 0, "labelExpr": "datum.value == 'flox' ? 'Fpr2ᶠˡᵒˣ/ᶠˡᵒˣ' : 'Fpr2ᴹᴷᴼ'"}}}
                    }
                  ]
                }
              ]
            },
            {
              "spacing": -4,
              "resolve": {"scale": {"fill": "independent", "shape": "independent", "opacity": "independent"}},
              "hconcat": [
                {
                  "width": 45, "height": 42,
                  "encoding": {
                    "x": {"field": "k", "type": "nominal", "scale": {"type": "band", "domain": ["flox|-", "flox|+", "s", "MKO|-", "MKO|+"], "paddingInner": 0.08, "paddingOuter": 0.25}, "axis": {"title": null, "labelAngle": -45, "ticks": false, "labelFontSize": 6.5, "labelOffset": 4.1, "labelExpr": "datum.value == 'flox|-' ? 'Fpr2ᶠˡᵒˣ/ᶠˡᵒˣ' : datum.value == 'MKO|-' ? 'Fpr2ᴹᴷᴼ' : ''"}},
                    "y": {"field": "v", "type": "quantitative", "scale": {"domain": [0, 12]}, "axis": {"values": [0, 4, 8, 12], "title": "p-Akt/Akt"}}
                  },
                  "layer": [
                    {
                      "data": {"values": [{"k": "flox|-", "ins": "-", "v": 1.0, "hi": 1.1}, {"k": "flox|+", "ins": "+", "v": 3.8, "hi": 4.4}, {"k": "MKO|-", "ins": "-", "v": 1.1, "hi": 1.2}, {"k": "MKO|+", "ins": "+", "v": 6.3, "hi": 6.8}]},
                      "layer": [
                        {"mark": {"type": "bar", "stroke": "black", "strokeWidth": 1}, "encoding": {"fill": {"field": "ins", "type": "nominal", "scale": {"domain": ["-", "+"], "range": ["white", "black"]}, "legend": {"title": null, "orient": "none", "legendX": 3, "legendY": -19, "direction": "vertical", "symbolType": "M-1,-0.6H1V0.6H-1Z", "symbolSize": 50, "labelExpr": "datum.label == '-' ? '- Insulin' : '+ Insulin'"}}}},
                        {"mark": {"type": "rule", "color": "black", "strokeWidth": 1}, "encoding": {"y2": {"field": "hi"}}}
                      ]
                    },
                    {"data": {"values": [{"k": "flox|-", "v": 1.1}, {"k": "flox|+", "v": 4.4}, {"k": "MKO|-", "v": 1.2}, {"k": "MKO|+", "v": 6.8}]}, "mark": {"type": "tick", "color": "black", "thickness": 1, "size": 4}, "encoding": {}},
                    {"data": {"values": [{"k": "flox|+", "v": 9.7, "o": 1}, {"k": "flox|+", "v": 10.5, "o": 2}, {"k": "MKO|+", "v": 10.5, "o": 3}, {"k": "MKO|+", "v": 9.7, "o": 4}]}, "mark": {"type": "line", "color": "black", "strokeWidth": 1}, "encoding": {"order": {"field": "o"}}},
                    {"data": {"values": [{"k": "s", "v": 10.5, "s": "**"}]}, "mark": {"type": "text", "baseline": "bottom", "dy": 3, "dx": 4.1}, "encoding": {"text": {"field": "s"}}}
                  ]
                },
                {
                  "width": 42, "height": 42,
                  "encoding": {
                    "x": {"field": "k", "type": "nominal", "scale": {"type": "band", "domain": ["flox|-", "flox|+", "s", "MKO|-", "MKO|+"], "paddingInner": 0.08, "paddingOuter": 0.25}, "axis": {"title": null, "labelAngle": -45, "ticks": false, "labelFontSize": 6.5, "labelOffset": 3.9, "labelExpr": "datum.value == 'flox|-' ? 'Fpr2ᶠˡᵒˣ/ᶠˡᵒˣ' : datum.value == 'MKO|-' ? 'Fpr2ᴹᴷᴼ' : ''"}},
                    "y": {"field": "v", "type": "quantitative", "scale": {"domain": [0, 15]}, "axis": {"values": [0, 5, 10, 15], "title": null}}
                  },
                  "layer": [
                    {
                      "data": {"values": [{"k": "flox|-", "ins": "-", "v": 1.0, "hi": 1.3}, {"k": "flox|+", "ins": "+", "v": 2.5, "hi": 3.7}, {"k": "MKO|-", "ins": "-", "v": 1.2, "hi": 1.4}, {"k": "MKO|+", "ins": "+", "v": 7.9, "hi": 9.7}]},
                      "layer": [
                        {"mark": {"type": "bar", "stroke": "black", "strokeWidth": 1}, "encoding": {"fill": {"field": "ins", "type": "nominal", "scale": {"domain": ["-", "+"], "range": ["white", "black"]}, "legend": null}}},
                        {"mark": {"type": "rule", "color": "black", "strokeWidth": 1}, "encoding": {"y2": {"field": "hi"}}}
                      ]
                    },
                    {"data": {"values": [{"k": "flox|-", "v": 1.3}, {"k": "flox|+", "v": 3.7}, {"k": "MKO|-", "v": 1.4}, {"k": "MKO|+", "v": 9.7}]}, "mark": {"type": "tick", "color": "black", "thickness": 1, "size": 4}, "encoding": {}},
                    {"data": {"values": [{"k": "flox|+", "v": 12.2, "o": 1}, {"k": "flox|+", "v": 13.2, "o": 2}, {"k": "MKO|+", "v": 13.2, "o": 3}, {"k": "MKO|+", "v": 12.2, "o": 4}]}, "mark": {"type": "line", "color": "black", "strokeWidth": 1}, "encoding": {"order": {"field": "o"}}},
                    {"data": {"values": [{"k": "s", "v": 13.2, "s": "***"}]}, "mark": {"type": "text", "baseline": "bottom", "dy": 3, "dx": 3.9}, "encoding": {"text": {"field": "s"}}}
                  ]
                },
                {
                  "width": 40, "height": 42,
                  "encoding": {
                    "x": {"field": "k", "type": "nominal", "scale": {"type": "band", "domain": ["flox|-", "flox|+", "s", "MKO|-", "MKO|+"], "paddingInner": 0.08, "paddingOuter": 0.25}, "axis": {"title": null, "labelAngle": -45, "ticks": false, "labelFontSize": 6.5, "labelOffset": 3.7, "labelExpr": "datum.value == 'flox|-' ? 'Fpr2ᶠˡᵒˣ/ᶠˡᵒˣ' : datum.value == 'MKO|-' ? 'Fpr2ᴹᴷᴼ' : ''"}},
                    "y": {"field": "v", "type": "quantitative", "scale": {"domain": [0, 6]}, "axis": {"values": [0, 2, 4, 6], "title": null}}
                  },
                  "layer": [
                    {
                      "data": {"values": [{"k": "flox|-", "ins": "-", "v": 1.1, "hi": 1.3}, {"k": "flox|+", "ins": "+", "v": 1.5, "hi": 2.0}, {"k": "MKO|-", "ins": "-", "v": 1.4, "hi": 1.5}, {"k": "MKO|+", "ins": "+", "v": 3.8, "hi": 5.0}]},
                      "layer": [
                        {"mark": {"type": "bar", "stroke": "black", "strokeWidth": 1}, "encoding": {"fill": {"field": "ins", "type": "nominal", "scale": {"domain": ["-", "+"], "range": ["white", "black"]}, "legend": null}}},
                        {"mark": {"type": "rule", "color": "black", "strokeWidth": 1}, "encoding": {"y2": {"field": "hi"}}}
                      ]
                    },
                    {"data": {"values": [{"k": "flox|-", "v": 1.3}, {"k": "flox|+", "v": 2.0}, {"k": "MKO|-", "v": 1.5}, {"k": "MKO|+", "v": 5.0}]}, "mark": {"type": "tick", "color": "black", "thickness": 1, "size": 4}, "encoding": {}},
                    {"data": {"values": [{"b": 1, "k": "flox|+", "v": 5.15, "o": 1}, {"b": 1, "k": "flox|+", "v": 5.5, "o": 2}, {"b": 1, "k": "MKO|+", "v": 5.5, "o": 3}, {"b": 1, "k": "MKO|+", "v": 5.15, "o": 4}, {"b": 2, "k": "flox|-", "v": 2.5, "o": 1}, {"b": 2, "k": "flox|-", "v": 2.85, "o": 2}, {"b": 2, "k": "MKO|-", "v": 2.85, "o": 3}, {"b": 2, "k": "MKO|-", "v": 2.5, "o": 4}]}, "mark": {"type": "line", "color": "black", "strokeWidth": 1}, "encoding": {"detail": {"field": "b"}, "order": {"field": "o"}}},
                    {"data": {"values": [{"k": "s", "v": 5.5, "s": "***"}, {"k": "flox|+", "v": 2.85, "s": "**"}]}, "mark": {"type": "text", "baseline": "bottom", "dy": 3, "dx": 3.7}, "encoding": {"text": {"field": "s"}}}
                  ]
                }
              ]
            }
          ]
        }
      ]
    },
    {
      "spacing": 22,
      "resolve": {"scale": {"fill": "independent", "shape": "independent", "opacity": "independent"}},
      "hconcat": [
        {
          "title": {"text": "K", "offset": -16, "dx": -16},
          "spacing": -9,
          "resolve": {"scale": {"fill": "independent", "shape": "independent", "opacity": "independent"}},
          "hconcat": [
            {
              "width": 32, "height": 59,
              "encoding": {
                "x": {"field": "g", "type": "nominal", "scale": {"type": "band", "domain": ["flox", "MKO"], "paddingInner": 0.3, "paddingOuter": 0.15}, "axis": {"title": null, "labels": false, "ticks": false}},
                "y": {"field": "v", "type": "quantitative", "scale": {"domain": [0, 1]}, "axis": {"values": [0, 0.2, 0.4, 0.6, 0.8, 1], "format": ".1f", "title": "Serum TG (mmol/L)", "titlePadding": 6}}
              },
              "layer": [
                {
                  "data": {"values": [{"g": "flox", "v": 0.71, "hi": 0.78}, {"g": "MKO", "v": 0.55, "hi": 0.58}]},
                  "layer": [
                    {"mark": {"type": "bar", "stroke": "black", "strokeWidth": 1}, "encoding": {"fill": {"field": "g", "type": "nominal", "scale": {"domain": ["flox", "MKO"], "range": ["white", "black"]}, "legend": {"title": null, "orient": "none", "legendX": -12, "legendY": -21, "direction": "vertical", "symbolType": "M-1,-0.6H1V0.6H-1Z", "symbolSize": 50, "labelExpr": "datum.label == 'flox' ? 'Fpr2ᶠˡᵒˣ/ᶠˡᵒˣ HFD' : 'Fpr2ᴹᴷᴼ HFD'"}}}},
                    {"mark": {"type": "rule", "color": "black", "strokeWidth": 1}, "encoding": {"y2": {"field": "hi"}}}
                  ]
                },
                {"data": {"values": [{"g": "flox", "v": 0.78}, {"g": "MKO", "v": 0.58}]}, "mark": {"type": "tick", "color": "black", "thickness": 1, "size": 4}, "encoding": {}},
                {"data": {"values": [{"g": "flox", "v": 0.81, "o": 1}, {"g": "flox", "v": 0.86, "o": 2}, {"g": "MKO", "v": 0.86, "o": 3}, {"g": "MKO", "v": 0.81, "o": 4}]}, "mark": {"type": "line", "color": "black", "strokeWidth": 1}, "encoding": {"order": {"field": "o"}}},
                {"data": {"values": [{"g": "flox", "v": 0.86, "s": "*"}]}, "mark": {"type": "text", "baseline": "bottom", "dy": 3, "dx": 8}, "encoding": {"text": {"field": "s"}}}
              ]
            },
            {
              "width": 37, "height": 59,
              "encoding": {
                "x": {"field": "g", "type": "nominal", "scale": {"type": "band", "domain": ["flox", "MKO"], "paddingInner": 0.3, "paddingOuter": 0.15}, "axis": {"title": null, "labels": false, "ticks": false}},
                "y": {"field": "v", "type": "quantitative", "scale": {"domain": [0, 1.5]}, "axis": {"values": [0, 0.5, 1, 1.5], "labelExpr": "datum.value == 0 ? '0' : format(datum.value, '.1f')", "title": "Serum NEFA (mEq/L)"}}
              },
              "layer": [
                {
                  "data": {"values": [{"g": "flox", "v": 1.05, "hi": 1.18}, {"g": "MKO", "v": 0.68, "hi": 0.73}]},
                  "layer": [
                    {"mark": {"type": "bar", "stroke": "black", "strokeWidth": 1}, "encoding": {"fill": {"field": "g", "type": "nominal", "scale": {"domain": ["flox", "MKO"], "range": ["white", "black"]}, "legend": null}}},
                    {"mark": {"type": "rule", "color": "black", "strokeWidth": 1}, "encoding": {"y2": {"field": "hi"}}}
                  ]
                },
                {"data": {"values": [{"g": "flox", "v": 1.18}, {"g": "MKO", "v": 0.73}]}, "mark": {"type": "tick", "color": "black", "thickness": 1, "size": 4}, "encoding": {}},
                {"data": {"values": [{"g": "flox", "v": 1.24, "o": 1}, {"g": "flox", "v": 1.32, "o": 2}, {"g": "MKO", "v": 1.32, "o": 3}, {"g": "MKO", "v": 1.24, "o": 4}]}, "mark": {"type": "line", "color": "black", "strokeWidth": 1}, "encoding": {"order": {"field": "o"}}},
                {"data": {"values": [{"g": "flox", "v": 1.32, "s": "*"}]}, "mark": {"type": "text", "baseline": "bottom", "dy": 3, "dx": 9}, "encoding": {"text": {"field": "s"}}}
              ]
            }
          ]
        },
        {
          "width": 40, "height": 57,
          "title": {"text": "L", "dx": -5},
          "encoding": {
            "x": {"field": "k", "type": "nominal", "scale": {"type": "band", "domain": ["AST|flox", "AST|MKO", "s", "ALT|flox", "ALT|MKO"], "paddingInner": 0.06, "paddingOuter": 0.3}, "axis": {"title": null, "labelAngle": 0, "ticks": false, "labelFontSize": 8.5, "labelOffset": 3.6, "labelExpr": "datum.value == 'AST|flox' ? 'AST' : datum.value == 'ALT|flox' ? 'ALT' : ''"}},
            "y": {"field": "v", "type": "quantitative", "scale": {"domain": [0, 80]}, "axis": {"values": [0, 20, 40, 60, 80], "title": ["Seurm trans-", "aminase (units/L)"]}}
          },
          "layer": [
            {
              "data": {"values": [{"k": "AST|flox", "g": "flox", "v": 59, "hi": 62}, {"k": "AST|MKO", "g": "MKO", "v": 44, "hi": 45}, {"k": "ALT|flox", "g": "flox", "v": 40, "hi": 41}, {"k": "ALT|MKO", "g": "MKO", "v": 37, "hi": 38}]},
              "layer": [
                {"mark": {"type": "bar", "stroke": "black", "strokeWidth": 1}, "encoding": {"fill": {"field": "g", "type": "nominal", "scale": {"domain": ["flox", "MKO"], "range": ["white", "black"]}, "legend": null}}},
                {"mark": {"type": "rule", "color": "black", "strokeWidth": 1}, "encoding": {"y2": {"field": "hi"}}}
              ]
            },
            {"data": {"values": [{"k": "AST|flox", "v": 62}, {"k": "AST|MKO", "v": 45}, {"k": "ALT|flox", "v": 41}, {"k": "ALT|MKO", "v": 38}]}, "mark": {"type": "tick", "color": "black", "thickness": 1, "size": 4}, "encoding": {}},
            {"data": {"values": [{"b": 1, "k": "AST|flox", "v": 68, "o": 1}, {"b": 1, "k": "AST|flox", "v": 72, "o": 2}, {"b": 1, "k": "AST|MKO", "v": 72, "o": 3}, {"b": 1, "k": "AST|MKO", "v": 68, "o": 4}, {"b": 2, "k": "ALT|flox", "v": 47, "o": 1}, {"b": 2, "k": "ALT|flox", "v": 51, "o": 2}, {"b": 2, "k": "ALT|MKO", "v": 51, "o": 3}, {"b": 2, "k": "ALT|MKO", "v": 47, "o": 4}]}, "mark": {"type": "line", "color": "black", "strokeWidth": 1}, "encoding": {"detail": {"field": "b"}, "order": {"field": "o"}}},
            {"data": {"values": [{"k": "AST|flox", "v": 72, "s": "**"}, {"k": "ALT|flox", "v": 51, "s": "*"}]}, "mark": {"type": "text", "baseline": "bottom", "dy": 3, "dx": 3.6}, "encoding": {"text": {"field": "s"}}}
          ]
        },
        {
          "width": 30, "height": 57,
          "title": {"text": "M", "dx": -11},
          "encoding": {
            "x": {"field": "g", "type": "nominal", "scale": {"type": "band", "domain": ["flox", "MKO"], "paddingInner": 0.3, "paddingOuter": 0.15}, "axis": {"title": null, "labels": false, "ticks": false}},
            "y": {"field": "v", "type": "quantitative", "scale": {"domain": [0, 4]}, "axis": {"values": [0, 1, 2, 3, 4], "title": "Liver TG (mmol/L/100g)", "titleFontSize": 8, "titlePadding": 5}}
          },
          "layer": [
            {
              "data": {"values": [{"g": "flox", "v": 2.5, "hi": 2.6}, {"g": "MKO", "v": 2.1, "hi": 2.15}]},
              "layer": [
                {"mark": {"type": "bar", "stroke": "black", "strokeWidth": 1}, "encoding": {"fill": {"field": "g", "type": "nominal", "scale": {"domain": ["flox", "MKO"], "range": ["white", "black"]}, "legend": null}}},
                {"mark": {"type": "rule", "color": "black", "strokeWidth": 1}, "encoding": {"y2": {"field": "hi"}}}
              ]
            },
            {"data": {"values": [{"g": "flox", "v": 2.6}, {"g": "MKO", "v": 2.15}]}, "mark": {"type": "tick", "color": "black", "thickness": 1, "size": 4}, "encoding": {}},
            {"data": {"values": [{"g": "flox", "v": 3.1, "o": 1}, {"g": "flox", "v": 3.35, "o": 2}, {"g": "MKO", "v": 3.35, "o": 3}, {"g": "MKO", "v": 3.1, "o": 4}]}, "mark": {"type": "line", "color": "black", "strokeWidth": 1}, "encoding": {"order": {"field": "o"}}},
            {"data": {"values": [{"g": "flox", "v": 3.35, "s": "*"}]}, "mark": {"type": "text", "baseline": "bottom", "dy": 3, "dx": 7.5}, "encoding": {"text": {"field": "s"}}}
          ]
        }
      ]
    }
  ]
}
